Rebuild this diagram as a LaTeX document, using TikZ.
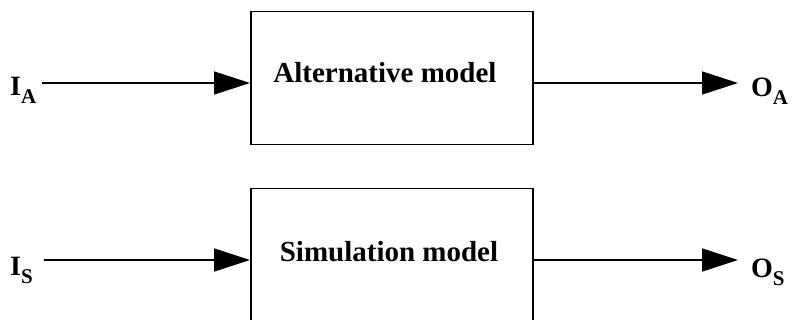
\documentclass[tikz,border=0pt]{standalone}
\usepackage{fontspec}
\setmainfont{Liberation Serif}
\usetikzlibrary{arrows.meta}

\tikzset{
  modelbox/.style={draw, line width=1.5pt, minimum width=282pt, minimum height=133pt,
    inner sep=0pt, anchor=north west},
  boxtext/.style={font=\bfseries\fontsize{29}{29}\selectfont, inner sep=0pt},
  iolabel/.style={font=\bfseries, inner sep=0pt, anchor=base west},
  flow/.style={line width=1.5pt, -{Triangle[length=36pt,width=23pt]}}
}
\newcommand{\signame}[2]{{\fontsize{28}{28}\selectfont #1}\raisebox{-8pt}{\fontsize{21}{21}\selectfont #2}}

\begin{document}
\begin{tikzpicture}[x=1pt,y=-1pt]
  \useasboundingbox (0,0) rectangle (792,320);
  \clip (0,0) rectangle (792,320);

  % the two model blocks
  \node[modelbox] (boxA) at (250,11) {};
  \node[modelbox] (boxS) at (250,188) {};
  \node[boxtext] (txtA) at (385,73) {Alternative model};
  \node[boxtext] (txtS) at (389,252) {Simulation model};

  % inputs and outputs
  \node[iolabel] (inA) at (10,96) {\signame{I}{A}};
  \node[iolabel] (outA) at (751,97) {\signame{O}{A}};
  \node[iolabel] (inS) at (10,276) {\signame{I}{S}};
  \node[iolabel] (outS) at (751,277) {\signame{O}{S}};

  \coordinate (inAend) at (42,83);
  \coordinate (outAend) at (738,83);
  \coordinate (inSend) at (44,260);
  \coordinate (outSend) at (738,260);

  \draw[flow] (inAend) -- (inAend -| boxA.west);
  \draw[flow] (boxA.east |- outAend) -- (outAend);
  \draw[flow] (inSend) -- (inSend -| boxS.west);
  \draw[flow] (boxS.east |- outSend) -- (outSend);
\end{tikzpicture}
\end{document}
